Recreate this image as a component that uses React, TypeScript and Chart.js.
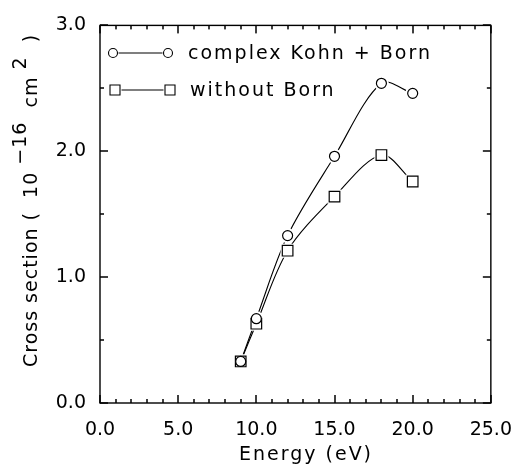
import React, { useEffect, useRef } from "react";
import { Chart, registerables } from "chart.js";

Chart.register(...registerables);

const energies = [9, 10, 12, 15, 18, 20];
const kohnBorn = [0.33, 0.67, 1.33, 1.96, 2.54, 2.46];
const withoutBorn = [0.33, 0.63, 1.21, 1.64, 1.97, 1.76];
const seriesLabels = ["complex Kohn + Born", "without Born"];
const xRange = [0, 25];
const yRange = [0, 3];
const xTitle = "Energy (eV)";
const yTitleParts = [
  { text: "Cross section (  10 ", sup: false },
  { text: "\u221216", sup: true },
  { text: "  cm ", sup: false },
  { text: "2", sup: true },
  { text: "  )", sup: false },
];

const FONT = '"DejaVu Sans", sans-serif';

const framePlugin = {
  id: "frameTicks",
  afterDraw(chart: any) {
    const { ctx, chartArea } = chart;
    const xs = chart.scales.x;
    const ys = chart.scales.y;
    const { left, right, top, bottom } = chartArea;
    ctx.save();
    ctx.strokeStyle = "#000";
    ctx.fillStyle = "#000";
    ctx.lineWidth = 1.4;
    ctx.strokeRect(left, top, right - left, bottom - top);
    for (let v = xRange[0]; v <= xRange[1]; v += 1) {
      const px = Math.round(xs.getPixelForValue(v));
      const len = v % 5 === 0 ? 8 : 4;
      ctx.fillRect(px - 0.75, bottom - len, 1.5, len);
      ctx.fillRect(px - 0.75, top, 1.5, len);
    }
    for (let i = 0; i <= (yRange[1] - yRange[0]) * 2; i++) {
      const v = yRange[0] + i * 0.5;
      const py = Math.round(ys.getPixelForValue(v));
      const len = i % 2 === 0 ? 8 : 4;
      ctx.fillRect(left, py - 0.75, len, 1.5);
      ctx.fillRect(right - len, py - 0.75, len, 1.5);
    }

    // x title
    ctx.font = `19px ${FONT}`;
    (ctx as any).letterSpacing = "2px";
    ctx.textAlign = "center";
    ctx.textBaseline = "alphabetic";
    ctx.fillText(xTitle, 306, 460);
    // legend
    ctx.textAlign = "left";
    ctx.textBaseline = "middle";
    ctx.lineWidth = 1.1;
    const rows = [
      { y: 53, x1: 113, x2: 168, tx: 188, shape: "circle" },
      { y: 90, x1: 115, x2: 170, tx: 190, shape: "rect" },
    ];
    rows.forEach((r, i) => {
      ctx.beginPath();
      const g = r.shape === "circle" ? 5.5 : 6.5;
      ctx.moveTo(r.x1 + g, r.y);
      ctx.lineTo(r.x2 - g, r.y);
      ctx.stroke();
      [r.x1, r.x2].forEach((cx) => {
        ctx.beginPath();
        if (r.shape === "circle") ctx.arc(cx, r.y, 4.5, 0, Math.PI * 2);
        else ctx.rect(cx - 5, r.y - 5, 10, 10);
        ctx.stroke();
      });
      ctx.fillText(seriesLabels[i], r.tx, r.y + 1);
    });
    // y title
    (ctx as any).letterSpacing = "1px";
    ctx.translate(37, 367);
    ctx.rotate(-Math.PI / 2);
    ctx.textBaseline = "alphabetic";
    let xPos = 0;
    yTitleParts.forEach((p) => {
      ctx.fillText(p.text, xPos, p.sup ? -11 : 0);
      xPos += ctx.measureText(p.text).width;
    });
    ctx.restore();
  },
};

export default function App() {
  const ref = useRef<HTMLCanvasElement>(null);
  useEffect(() => {
    if (!ref.current) return;
    const pts = (ys: number[]) => energies.map((x, i) => ({ x, y: ys[i] }));
    const lineDs = (ys: number[]) => ({
      data: pts(ys),
      showLine: true,
      borderColor: "#000",
      borderWidth: 1.1,
      pointRadius: 0,
      tension: 0.32,
      order: 3,
    });
    const haloDs = (ys: number[], style: string, r: number) => ({
      data: pts(ys),
      showLine: false,
      pointStyle: style,
      pointRadius: r,
      pointBackgroundColor: "#fff",
      pointBorderColor: "#fff",
      pointBorderWidth: 0,
      order: 2,
    });
    const markDs = (ys: number[], style: string, r: number) => ({
      data: pts(ys),
      showLine: false,
      pointStyle: style,
      pointRadius: r,
      pointBackgroundColor: "#fff",
      pointBorderColor: "#000",
      pointBorderWidth: 1.2,
      order: 1,
    });
    const chart = new Chart(ref.current, {
      type: "scatter",
      data: {
        datasets: [
          lineDs(kohnBorn),
          lineDs(withoutBorn),
          haloDs(kohnBorn, "circle", 7.5),
          haloDs(withoutBorn, "rect", 10),
          markDs(kohnBorn, "circle", 5),
          markDs(withoutBorn, "rect", 7.5),
        ] as any,
      },
      options: {
        responsive: false,
        animation: false,
        layout: { padding: { top: 23, right: 31, left: 0, bottom: 0 } },
        plugins: { legend: { display: false }, tooltip: { enabled: false } },
        scales: {
          x: {
            type: "linear",
            min: xRange[0],
            max: xRange[1],
            grid: { display: false, drawTicks: false },
            border: { display: false },
            ticks: {
              stepSize: 5,
              padding: 16,
              color: "#000",
              font: { family: FONT, size: 19 },
              maxRotation: 0,
              callback: (v: any) => Number(v).toFixed(1),
            },
            afterFit: (s: any) => {
              s.height = 63;
            },
          },
          y: {
            type: "linear",
            min: yRange[0],
            max: yRange[1],
            grid: { display: false, drawTicks: false },
            border: { display: false },
            ticks: {
              stepSize: 1,
              padding: 14,
              color: "#000",
              font: { family: FONT, size: 19 },
              callback: (v: any) => Number(v).toFixed(1),
            },
            afterFit: (s: any) => {
              s.width = 100;
            },
          },
        },
      } as any,
      plugins: [framePlugin],
    });
    return () => chart.destroy();
  }, []);
  return (
    <div style={{ position: "fixed", left: 0, top: 0, width: 528, height: 466, background: "#fff" }}>
      <canvas ref={ref} width={528} height={466} style={{ display: "block" }} />
    </div>
  );
}
